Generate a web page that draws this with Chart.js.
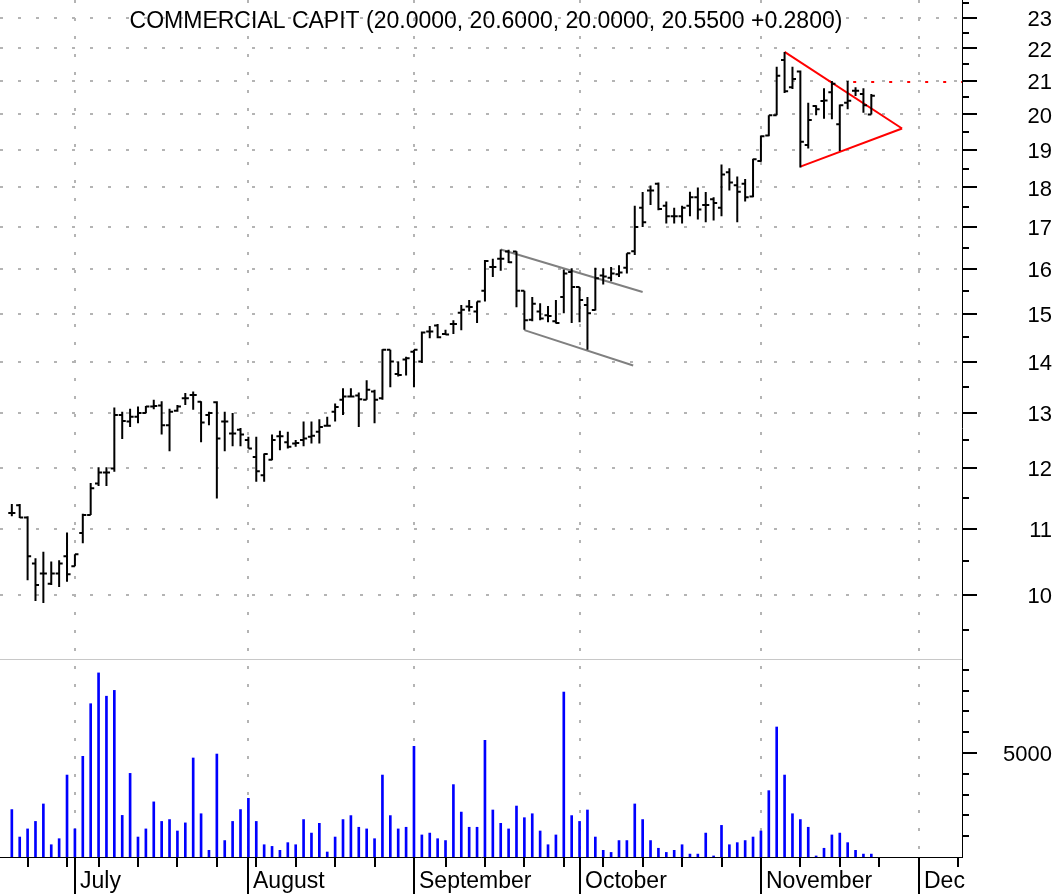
<!DOCTYPE html>
<html>
<head>
<meta charset="utf-8">
<script src="https://cdn.jsdelivr.net/npm/chart.js@4"></script>
<style>
  html, body { margin: 0; padding: 0; background: #fff; }
  #wrap { width: 1061px; height: 894px; }
</style>
</head>
<body>
<div id="wrap"><canvas id="chart" width="1061" height="894"></canvas></div>
<script>
// Titel och data (handelsdag-index 0 = 19 juni 2003)
const title = "COMMERCIAL CAPIT (20.0000, 20.6000, 20.0000, 20.5500 +0.2800)";

const opens = [
  11.25, 11.38, 11.18, 10.46, 10.31, 10.16, 10.31, 10.57, 10.42, 10.93,
  11.22, 11.74, 11.93, 12.00, 12.96, 12.84, 12.93, 13.00, 13.12, 13.14,
  12.77, 13.04, 13.28, 13.34, 13.21, 12.96, 13.20, 12.84, 12.62, 12.69,
  12.50, 12.20, 11.88, 12.15, 12.57, 12.46, 12.44, 12.50, 12.56, 12.65,
  12.76, 13.02, 13.25, 13.31, 13.33, 13.25, 13.41, 13.28, 14.24, 13.75,
  14.04, 14.20, 14.00, 14.62, 14.75, 14.57, 14.78, 15.02, 15.16, 15.05,
  15.51, 16.05, 16.24, 16.41, 16.41, 15.51, 14.87, 15.05, 14.97, 14.84,
  15.37, 15.93, 15.59, 15.19, 15.08, 15.85, 15.80, 15.88, 16.03, 16.42,
  17.48, 17.92, 18.10, 17.53, 17.27, 17.27, 17.53, 17.75, 17.55, 17.70,
  17.48, 18.40, 18.06, 18.10, 17.77, 18.70, 19.40, 19.98, 21.64, 20.80,
  21.28, 19.14, 20.25, 20.39, 20.65, 19.72, 20.34, 20.70, 20.60, 20.00
];
const highs = [
  11.40, 11.40, 11.20, 10.54, 10.64, 10.49, 10.51, 10.94, 10.60, 11.24,
  11.75, 12.02, 12.02, 13.10, 13.02, 13.08, 13.12, 13.13, 13.25, 13.22,
  13.08, 13.15, 13.38, 13.41, 13.22, 13.02, 13.22, 13.02, 13.00, 12.72,
  12.56, 12.56, 12.26, 12.60, 12.67, 12.65, 12.50, 12.84, 12.84, 12.88,
  12.93, 13.18, 13.47, 13.47, 13.39, 13.63, 13.44, 14.25, 14.24, 14.00,
  14.10, 14.24, 14.62, 14.74, 14.78, 14.66, 14.86, 15.19, 15.30, 15.27,
  16.21, 16.24, 16.46, 16.45, 16.42, 15.51, 15.37, 15.23, 15.17, 15.30,
  15.99, 16.02, 15.59, 15.37, 16.03, 16.02, 16.05, 16.09, 16.37, 17.53,
  17.88, 18.05, 18.13, 17.64, 17.48, 17.53, 17.89, 18.00, 17.88, 17.75,
  18.61, 18.51, 18.29, 18.22, 18.76, 19.40, 19.98, 21.43, 21.89, 21.43,
  21.31, 20.34, 20.27, 20.77, 20.99, 20.29, 20.99, 20.80, 20.77, 20.60
];
const lows = [
  11.20, 11.17, 10.21, 9.91, 9.88, 10.14, 10.11, 10.19, 10.42, 10.77,
  11.22, 11.70, 11.70, 11.94, 12.52, 12.74, 12.81, 13.00, 13.07, 12.60,
  12.30, 13.02, 13.15, 13.06, 12.46, 12.77, 11.49, 12.30, 12.39, 12.39,
  12.35, 11.77, 11.77, 12.14, 12.32, 12.35, 12.38, 12.39, 12.44, 12.44,
  12.75, 12.84, 12.96, 13.31, 12.74, 13.25, 12.81, 13.25, 13.49, 13.70,
  13.72, 13.49, 13.97, 14.48, 14.48, 14.55, 14.57, 14.65, 15.05, 14.80,
  15.27, 15.82, 15.96, 16.14, 15.14, 14.66, 14.84, 14.86, 14.82, 14.79,
  15.01, 14.80, 14.82, 14.24, 15.07, 15.65, 15.72, 15.82, 15.90, 16.33,
  17.00, 17.55, 17.42, 17.09, 17.09, 17.09, 17.27, 17.19, 17.12, 17.16,
  17.27, 17.92, 17.12, 17.64, 17.75, 18.68, 19.38, 19.98, 20.63, 20.75,
  18.53, 19.04, 19.98, 19.88, 19.86, 18.97, 20.15, 20.54, 20.05, 20.00
];
const closes = [
  11.25, 11.18, 10.57, 10.14, 10.31, 10.31, 10.46, 10.30, 10.60, 11.22,
  11.66, 11.93, 11.93, 12.96, 12.85, 12.93, 13.00, 13.12, 13.13, 12.77,
  13.02, 13.12, 13.28, 13.34, 12.82, 13.00, 12.53, 12.84, 12.62, 12.60,
  12.35, 11.95, 12.25, 12.50, 12.57, 12.38, 12.45, 12.53, 12.58, 12.74,
  12.76, 13.11, 13.31, 13.31, 13.26, 13.44, 13.25, 14.24, 14.00, 13.73,
  14.07, 14.24, 14.60, 14.62, 14.50, 14.56, 14.78, 15.09, 15.15, 15.27,
  16.19, 16.05, 16.24, 16.16, 15.51, 14.86, 15.22, 14.90, 14.95, 14.80,
  15.90, 15.59, 15.30, 15.01, 15.79, 15.83, 15.90, 15.92, 16.37, 17.00,
  17.12, 17.92, 17.45, 17.27, 17.27, 17.48, 17.75, 17.44, 17.55, 17.60,
  18.34, 18.13, 17.89, 17.75, 18.75, 19.38, 19.98, 21.15, 20.68, 21.05,
  19.23, 19.84, 20.15, 20.41, 20.91, 20.27, 20.40, 20.70, 20.27, 20.55
];
const volumes = [
  2280, 960, 1350, 1710, 2550, 590, 880, 3940, 1350, 4840,
  7370, 8850, 7730, 8010, 2000, 4020, 960, 1350, 2650, 1710,
  1800, 1250, 1640, 4760, 2080, 320, 4950, 790, 1710, 2280,
  2820, 1710, 590, 510, 320, 690, 590, 1800, 1150, 1620,
  240, 960, 1800, 1990, 1430, 1350, 880, 3940, 1990, 1350,
  1430, 5320, 1060, 1150, 880, 790, 3480, 2160, 1430, 1430,
  5610, 2260, 1620, 1350, 2450, 1890, 2080, 1250, 590, 1060,
  7930, 1990, 1710, 2260, 960, 320, 220, 790, 790, 2550,
  1800, 790, 420, 220, 320, 590, 140, 140, 1150, 50,
  1520, 590, 690, 790, 960, 1250, 3190, 6250, 3940, 2080,
  1800, 1430, 50, 420, 1060, 1150, 690, 320, 140, 140
];

// x-axel: handelsdag-index för månadsstart och måndagar
const monthNames = ["July", "August", "September", "October", "November", "Dec"];
const monthStarts = [8, 30, 51, 72, 95, 115];
const mondays = [2, 7, 11, 16, 21, 26, 31, 36, 41, 46, 55, 60, 65, 70, 75, 80, 85, 90, 100, 105, 110, 120];

// y-axlar
const priceLabels = [10, 11, 12, 13, 14, 15, 16, 17, 18, 19, 20, 21, 22, 23];
const priceMinor = [9.5, 10.5, 11.5, 12.5, 13.5, 14.5, 15.5, 16.5, 17.5, 18.5, 19.5, 20.5, 21.5, 22.5, 23.5];
const volumeLabels = [5000];
const volumeMinor = [1000, 2000, 3000, 4000, 6000, 7000, 8000, 9000];
const volumePanelTop = 9520;

// trendlinjer [index, pris]
const channelUpper = [[62, 16.46], [80, 15.48]];
const channelLower = [[65, 14.65], [78.8, 13.92]];
const triangleUpper = [[98, 21.89], [112.9, 19.60]];
const triangleLower = [[100, 18.55], [112.9, 19.60]];
const resistance = [[106.7, 20.96], [120.5, 20.96]];

const ohlcPoints = [];
highs.forEach((h, i) => {
  ohlcPoints.push(
    {x: i, y: lows[i]}, {x: i, y: h}, {x: i, y: null},
    {x: i - 0.45, y: opens[i]}, {x: i, y: opens[i]}, {x: i, y: null},
    {x: i, y: closes[i]}, {x: i + 0.45, y: closes[i]}, {x: i, y: null}
  );
});

const toPts = arr => arr.map(([x, y]) => ({x, y}));
const FONT = '23px "Liberation Sans", Arial, sans-serif';
const AXFONT = '22px "Liberation Sans", Arial, sans-serif';

function seg(ctx, x1, y1, x2, y2) {
  ctx.beginPath();
  ctx.moveTo(x1, y1);
  ctx.lineTo(x2, y2);
  ctx.stroke();
}

const decor = {
  id: 'decor',
  beforeDatasetsDraw(chart) {
    const {ctx, chartArea: a, scales} = chart;
    const {x, y, vol} = scales;
    ctx.save();
    ctx.strokeStyle = '#b4b4b4';
    ctx.lineWidth = 2;
    ctx.setLineDash([3, 15]);
    priceLabels.forEach(p => {
      const py = Math.round(y.getPixelForValue(p));
      seg(ctx, a.left, py, a.right, py);
    });
    monthStarts.forEach(i => {
      const px = Math.round(x.getPixelForValue(i));
      seg(ctx, px, a.top, px, a.bottom);
    });
    ctx.setLineDash([]);
    ctx.lineWidth = 1;
    ctx.strokeStyle = '#c8c8c8';
    const sy = Math.round(vol.getPixelForValue(volumePanelTop)) + 0.5;
    seg(ctx, a.left, sy, a.right, sy);
    ctx.restore();
  },
  afterDraw(chart) {
    const {ctx, chartArea: a, scales} = chart;
    const {x, y, vol} = scales;
    const H = chart.height;
    ctx.save();
    ctx.strokeStyle = '#000';
    ctx.fillStyle = '#000';
    // axlar
    ctx.lineWidth = 1;
    seg(ctx, a.right + 0.5, a.top, a.right + 0.5, a.bottom);
    seg(ctx, a.left, a.bottom + 0.5, a.right + 1, a.bottom + 0.5);
    // y-ticks
    ctx.lineWidth = 2;
    priceLabels.forEach(p => {
      const py = Math.round(y.getPixelForValue(p));
      seg(ctx, a.right, py, a.right + 15, py);
    });
    priceMinor.forEach(p => {
      const py = Math.round(y.getPixelForValue(p));
      seg(ctx, a.right, py, a.right + 7, py);
    });
    volumeLabels.forEach(v => {
      const py = Math.round(vol.getPixelForValue(v));
      seg(ctx, a.right, py, a.right + 15, py);
    });
    volumeMinor.forEach(v => {
      const py = Math.round(vol.getPixelForValue(v));
      seg(ctx, a.right, py, a.right + 7, py);
    });
    // x-ticks
    mondays.forEach(i => {
      const px = Math.round(x.getPixelForValue(i));
      seg(ctx, px, a.bottom, px, a.bottom + 10);
    });
    monthStarts.forEach(i => {
      const px = Math.round(x.getPixelForValue(i));
      seg(ctx, px, a.bottom, px, H);
    });
    // etiketter
    ctx.font = AXFONT;
    ctx.textAlign = 'right';
    ctx.textBaseline = 'middle';
    priceLabels.forEach(p => ctx.fillText(String(p), 1052, y.getPixelForValue(p) + 2));
    volumeLabels.forEach(v => ctx.fillText(String(v), 1052, vol.getPixelForValue(v) + 2));
    ctx.font = FONT;
    ctx.textAlign = 'left';
    ctx.textBaseline = 'alphabetic';
    monthStarts.forEach((i, k) => {
      ctx.fillText(monthNames[k], Math.round(x.getPixelForValue(i)) + 5, 888);
    });
    ctx.textAlign = 'center';
    ctx.fillText(title, 486, 28);
    ctx.restore();
  }
};

new Chart(document.getElementById('chart'), {
  type: 'bar',
  data: {
    datasets: [
      {
        type: 'bar',
        data: volumes.map((v, i) => ({x: i, y: v})),
        backgroundColor: '#0000ff',
        barThickness: 2,
        yAxisID: 'vol'
      },
      {
        type: 'line',
        data: ohlcPoints,
        borderColor: '#000',
        borderWidth: 2,
        pointRadius: 0,
        spanGaps: false,
        yAxisID: 'y'
      },
      {
        type: 'line', data: toPts(channelUpper), borderColor: '#808080',
        borderWidth: 2, pointRadius: 0, yAxisID: 'y'
      },
      {
        type: 'line', data: toPts(channelLower), borderColor: '#808080',
        borderWidth: 2, pointRadius: 0, yAxisID: 'y'
      },
      {
        type: 'line', data: toPts(triangleUpper), borderColor: '#ff0000',
        borderWidth: 2, pointRadius: 0, yAxisID: 'y'
      },
      {
        type: 'line', data: toPts(triangleLower), borderColor: '#ff0000',
        borderWidth: 2, pointRadius: 0, yAxisID: 'y'
      },
      {
        type: 'line', data: toPts(resistance), borderColor: '#ff0000',
        borderWidth: 2, borderDash: [3, 15], pointRadius: 0, yAxisID: 'y'
      }
    ]
  },
  options: {
    responsive: false,
    animation: false,
    devicePixelRatio: 1,
    layout: { padding: { left: 0, top: 0, right: 99, bottom: 37 } },
    plugins: {
      legend: { display: false },
      tooltip: { enabled: false },
      title: { display: false }
    },
    scales: {
      x: { type: 'linear', min: -1.5, max: 120.5, offset: false, display: false },
      y: { type: 'logarithmic', min: 6.848, max: 23.594, bounds: 'data', display: false },
      vol: { type: 'linear', min: 0, max: 41200, bounds: 'data', display: false, position: 'right' }
    }
  },
  plugins: [decor]
});
</script>
</body>
</html>
